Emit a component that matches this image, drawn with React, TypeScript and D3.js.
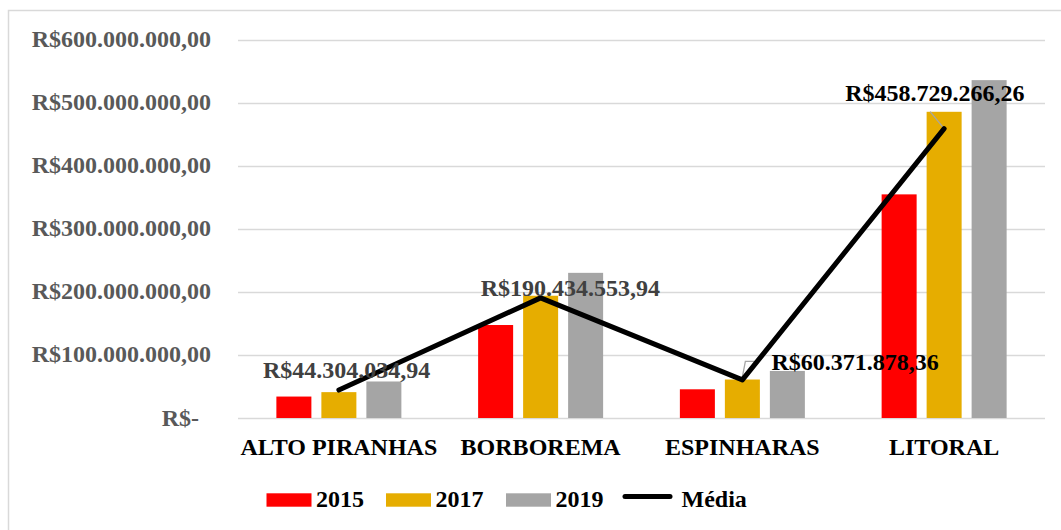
import React from "react";
import * as d3 from "d3";

const categories = ["ALTO PIRANHAS", "BORBOREMA", "ESPINHARAS", "LITORAL"];
const seriesNames = ["2015", "2017", "2019"];
const values2015 = [34.0, 147.4, 45.5, 354.5];
const values2017 = [41.0, 193.8, 61.0, 485.4];
const values2019 = [57.9, 230.1, 74.6, 535.6];
const mediaValues = [44.304034, 190.434554, 60.371878, 458.729266];
const mediaLabels = ["R$44.304.034,94", "R$190.434.553,94", "R$60.371.878,36", "R$458.729.266,26"];
const yTicks = [0, 100, 200, 300, 400, 500, 600];
const yTickLabels = ["R$-", "R$100.000.000,00", "R$200.000.000,00", "R$300.000.000,00", "R$400.000.000,00", "R$500.000.000,00", "R$600.000.000,00"];

const seriesColors = ["#ff0000", "#e6ad00", "#a5a5a5"];
const labelColors = ["#404040", "#404040", "#000000", "#000000"];
// label anchor offsets from the point (dx, dy) - text-anchor start
const labelOffsets = [
  [-76, -12],
  [-60, -2],
  [29, -10],
  [-99, -28],
];

const FONT = "'Liberation Serif', 'Times New Roman', serif";

export default function App() {
  const W = 1061;
  const H = 530;
  const x = d3.scaleBand<string>().domain(categories).range([238, 1045]).padding(0);
  const xi = d3.scaleBand<string>().domain(seriesNames).range([-62.5, 62.5]).paddingInner(0.222).paddingOuter(0);
  const y = d3.scaleLinear().domain([0, 600]).range([418, 39.5]);
  const seriesValues = [values2015, values2017, values2019];

  const cx = (c: string) => (x(c) as number) + x.bandwidth() / 2;
  const line = d3
    .line<number>()
    .x((_, i) => cx(categories[i]))
    .y((d) => y(d));

  const legendItems = [
    { type: "rect", color: seriesColors[0], label: "2015", x: 266.5 },
    { type: "rect", color: seriesColors[1], label: "2017", x: 386 },
    { type: "rect", color: seriesColors[2], label: "2019", x: 506 },
    { type: "line", color: "#000", label: "Média", x: 623 },
  ];

  return (
    <svg
      width={W}
      height={H}
      style={{ position: "absolute", left: 0, top: 0, background: "#fff" }}
      fontFamily={FONT}
    >
      <rect x={8.5} y={10.5} width={1100} height={600} fill="#fff" stroke="#d9d9d9" strokeWidth={1.5} />
      {yTicks.map((t, i) => (
        <g key={t}>
          <line x1={238} x2={1045} y1={Math.round(y(t)) + 0.5} y2={Math.round(y(t)) + 0.5} stroke="#d9d9d9" strokeWidth={1.3} />
          <text
            x={t === 0 ? 199 : 211}
            y={y(t) + 7.5}
            textAnchor="end"
            fontSize={24}
            fontWeight="bold"
            fill="#595959"
          >
            {yTickLabels[i]}
          </text>
        </g>
      ))}
      {categories.map((c, ci) => (
        <g key={c}>
          {seriesNames.map((s, si) => (
            <rect
              key={s}
              x={cx(c) + (xi(s) as number)}
              y={y(seriesValues[si][ci])}
              width={xi.bandwidth()}
              height={y(0) - y(seriesValues[si][ci])}
              fill={seriesColors[si]}
            />
          ))}
          <text x={cx(c)} y={455} textAnchor="middle" fontSize={24} fontWeight="bold" fill="#000">
            {c}
          </text>
        </g>
      ))}
      {/* leader lines */}
      <polyline
        points={`${cx(categories[2])},${y(mediaValues[2]) - 3} ${cx(categories[2]) + 3},${y(mediaValues[2]) - 18.5} ${cx(categories[2]) + 13},${y(mediaValues[2]) - 18.5}`}
        fill="none"
        stroke="#a5a5a5"
        strokeWidth={1.3}
      />
      <line
        x1={cx(categories[3])}
        y1={y(mediaValues[3])}
        x2={cx(categories[3]) - 14}
        y2={y(mediaValues[3]) - 17}
        stroke="#a5a5a5"
        strokeWidth={1.3}
      />
      <path d={line(mediaValues) || ""} fill="none" stroke="#000" strokeWidth={5} strokeLinejoin="round" strokeLinecap="round" />
      {mediaValues.map((v, i) => (
        <text
          key={i}
          x={cx(categories[i]) + labelOffsets[i][0]}
          y={y(v) + labelOffsets[i][1]}
          fontSize={24}
          fontWeight="bold"
          fill={labelColors[i]}
        >
          {mediaLabels[i]}
        </text>
      ))}
      {legendItems.map((it) => (
        <g key={it.label}>
          {it.type === "rect" ? (
            <rect x={it.x} y={493.3} width={45} height={13.4} fill={it.color} />
          ) : (
            <line x1={it.x + 2} x2={it.x + 47} y1={496.5} y2={496.5} stroke="#000" strokeWidth={5} strokeLinecap="round" />
          )}
          <text x={it.type === "rect" ? it.x + 49.5 : it.x + 58.5} y={506.7} fontSize={24} fontWeight="bold" fill="#000">
            {it.label}
          </text>
        </g>
      ))}
    </svg>
  );
}
